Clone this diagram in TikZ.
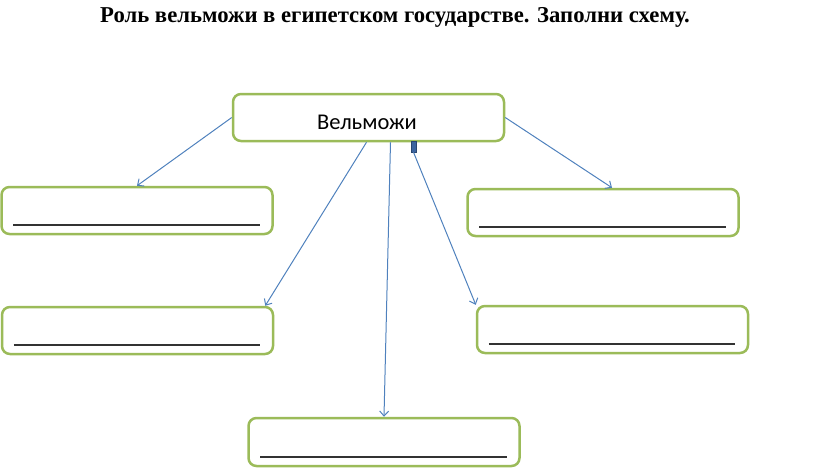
\documentclass[tikz,border=0pt]{standalone}
\usepackage{fontspec}
\setmainfont{Liberation Serif}
\newfontfamily\calib{Carlito}
\usetikzlibrary{arrows.meta}
\definecolor{boxgreen}{RGB}{155,187,89}
\definecolor{arrblue}{RGB}{79,129,189}
\definecolor{markblue}{RGB}{60,100,160}
\tikzset{
  box/.style={draw=boxgreen, line width=2.5pt, rounded corners=8pt, fill=white,
    minimum width=271pt, minimum height=47pt, inner sep=0pt},
  conn/.style={draw=arrblue, line width=1pt, -{Straight Barb[length=5pt,width=9pt]}},
  blank/.style={draw=black!80, line width=2pt}
}
\begin{document}
\begin{tikzpicture}[x=1pt,y=-1pt]
\useasboundingbox (0,0) rectangle (816,467);
\node (title) at (395,17) {\fontsize{22.7}{27}\selectfont\bfseries Роль вельможи в египетском государстве. Заполни схему.};
\node[box] (top) at (368.5,117.5) {};
\node[font=\calib\fontsize{22.5}{26}\selectfont] (toplabel) at (367,122) {Вельможи};
\node[box] (l1) at (137,210.5) {};
\node[box] (r1) at (603,212.5) {};
\node[box] (l2) at (137.5,330.5) {};
\node[box] (r2) at (612.5,329.5) {};
\node[box, minimum height=48pt] (bot) at (384,442) {};
\node[draw=markblue!70!black, fill=markblue, line width=0.5pt, minimum width=5pt, minimum height=11pt, inner sep=0pt] (mark) at (413.5,146.5) {};
\foreach \n in {l1,r1,l2,r2,bot}{
  \draw[blank] ([xshift=13pt,yshift=10pt]\n.south west) -- ([xshift=-14pt,yshift=10pt]\n.south east);
}
\draw[conn] (top.west) -- (l1.north);
\draw[conn] (top.east) -- ([xshift=9pt]r1.north);
\draw[conn] ([xshift=-2pt]top.south) -- ([xshift=-9pt]l2.north east);
\draw[conn] ([xshift=22pt]top.south) -- (bot.north);
\draw[conn] (mark.south) -- (r2.north west);
\end{tikzpicture}
\end{document}
